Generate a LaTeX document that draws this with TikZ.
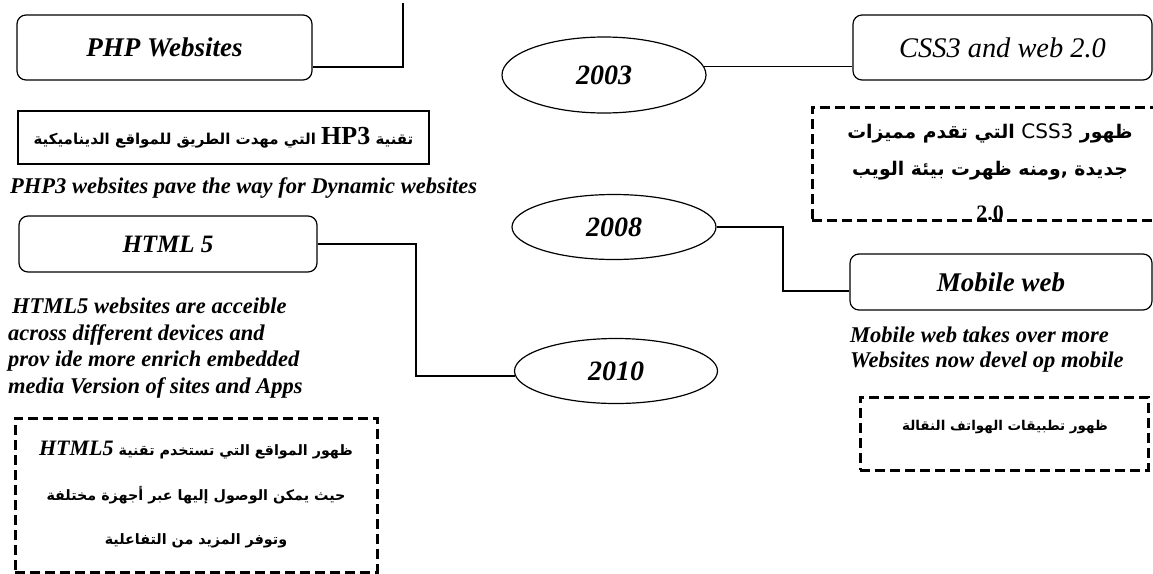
\documentclass[tikz,border=0pt]{standalone}
\usepackage{fontspec}
\setmainfont{Liberation Serif}
\newfontfamily\arabicfont[Script=Arabic]{DejaVu Sans}
\newfontfamily\dvsans{DejaVu Sans}
\TeXXeTstate=1
\usetikzlibrary{shapes.geometric,calc}
\tikzset{
  rbox/.style={draw, line width=1.2pt, rounded corners=9pt, minimum height=65pt, inner sep=0pt,
    font=\fontsize{27}{30}\selectfont\bfseries\itshape},
  yearell/.style={draw, ellipse, line width=1.2pt, inner sep=0pt,
    font=\fontsize{28}{30}\selectfont\bfseries\itshape},
  conn/.style={line width=2pt},
  thinconn/.style={line width=1.3pt},
  dashbox/.style={draw, line width=3pt, dash pattern=on 10pt off 5pt, inner sep=0pt},
  entext/.style={inner sep=0pt, align=left, font=\fontsize{22.5}{26.7}\selectfont\bfseries\itshape},
}
\begin{document}
\begin{tikzpicture}[x=1pt,y=-1pt]
\useasboundingbox (0,0) rectangle (1153,573);

% PHP
\node[rbox, minimum width=295pt] (php) at (164.5,47.5) {PHP Websites};
\coordinate (phptop) at (403,3);
\draw[conn] ($(php.east)+(0,19.5)$) -| (phptop);

\node[draw, line width=2pt, minimum width=411pt, minimum height=53pt, inner sep=0pt] (hp3) at (223.5,137.5)
  {\arabicfont\bfseries\fontsize{15}{20}\selectfont\beginR تقنية \beginL{\rmfamily\fontsize{26}{26}\selectfont HP3}\endL{} التي مهدت الطريق للمواقع الديناميكية\endR};

\node[entext, anchor=west] (php3) at (10,188) {PHP3 websites pave the way for Dynamic websites};

% CSS3
\node[rbox, minimum width=299pt, font=\fontsize{28.4}{30}\selectfont\mdseries\itshape] (css) at (1002.5,47.5) {CSS3 and web 2.0};
\node[yearell, minimum width=204pt, minimum height=76pt] (y2003) at (604,75) {2003};
\draw[thinconn] (y2003.5) -- (y2003.5 -| css.west);

\begin{scope}
  \clip (812,107) rectangle (1153,219);
  \node[align=center, inner sep=0pt, font=\arabicfont\bfseries\fontsize{18.8}{37}\selectfont] (csstext) at (990,152)
    {\beginR ظهور \beginL{\dvsans\mdseries\fontsize{20}{20}\selectfont CSS3}\endL{} التي تقدم مميزات\endR\\
     \beginR جديدة ,ومنه ظهرت بيئة الويب\endR};
  \node[inner sep=0pt, font=\rmfamily\bfseries\fontsize{22}{22}\selectfont] (cssver) at (990,213) {2.0};
\end{scope}
\node[dashbox, minimum width=350pt, minimum height=113pt] (cssdash) at (987,163.5) {};

% 2008 / Mobile
\node[yearell, minimum width=204pt, minimum height=65pt] (y2008) at (614,227) {2008};
\node[rbox, minimum width=302pt, minimum height=56pt] (mob) at (1001,282) {Mobile web};
\coordinate (mobin) at ($(mob.west)+(0,9)$);
\draw[conn] (y2008.east) -| ($(y2008.east)!.5!(mobin)$) |- (mobin);

\node[entext, anchor=west, font=\fontsize{22.5}{25}\selectfont\bfseries\itshape] (mobtxt) at (850,349.5)
  {Mobile web takes over more\\Websites now devel op mobile};

\node[dashbox, minimum width=288pt, minimum height=73pt] (mobdash) at (1004,433.5) {};
\node[inner sep=0pt, font=\arabicfont\bfseries\fontsize{13.5}{20}\selectfont] (mobar) at (1005,427)
  {\beginR ظهور تطبيقات الهواتف النقالة\endR};

% HTML5
\node[rbox, minimum width=298pt, minimum height=56pt, font=\fontsize{25}{30}\selectfont\bfseries\itshape] (html) at (168,244) {HTML 5};
\node[yearell, minimum width=203pt, minimum height=65pt] (y2010) at (616,371) {2010};
\draw[conn] (html.east) -| ($(html.east)!.5!(y2010.183)$) |- (y2010.183);

\node[entext, anchor=west] (htmltxt) at (8,348)
  {\hspace*{4pt}HTML5 websites are acceible\\across different devices and\\prov ide more enrich embedded\\media Version of sites and Apps};

\node[dashbox, minimum width=362pt, minimum height=154pt, align=center,
      font=\arabicfont\bfseries\fontsize{14.3}{44.5}\selectfont] (htmldash) at (196,495)
  {\beginR ظهور المواقع التي تستخدم تقنية \beginL{\rmfamily\itshape\fontsize{22}{22}\selectfont HTML5}\endL\endR\\
   \beginR حيث يمكن الوصول إليها عبر أجهزة مختلفة\endR\\
   \beginR وتوفر المزيد من التفاعلية\endR};
\end{tikzpicture}
\end{document}
